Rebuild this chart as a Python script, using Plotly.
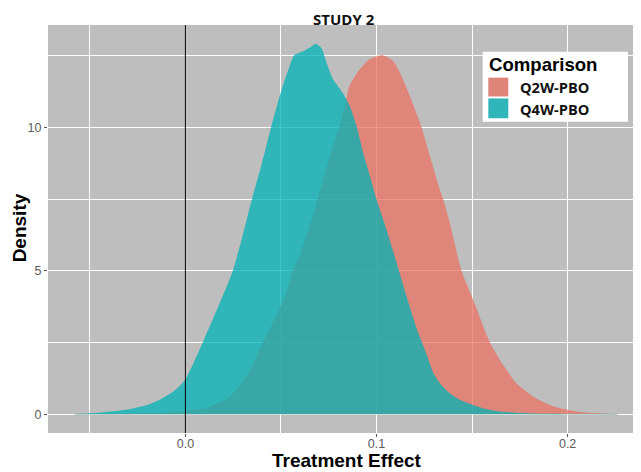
import plotly.graph_objects as go

# ---- data ----
q4w_x = [-0.058, -0.045, -0.031, -0.020, -0.0134, -0.006, 0.0, 0.0092, 0.017, 0.025,
         0.030, 0.035, 0.040, 0.045, 0.050, 0.054, 0.057, 0.062, 0.066, 0.0681,
         0.0711, 0.0737, 0.0772, 0.0816, 0.0859, 0.0894, 0.0929, 0.0964, 0.0999, 0.1051,
         0.1104, 0.1156, 0.1208, 0.126, 0.1295, 0.134, 0.1382, 0.144, 0.1504, 0.157,
         0.1644, 0.182, 0.200, 0.226]
q4w_y = [0.0, 0.05, 0.15, 0.32, 0.5, 0.8, 1.2, 2.5, 3.7, 5.0,
         6.2, 7.5, 8.7, 10.0, 11.2, 12.0, 12.5, 12.65, 12.8, 12.9,
         12.75, 12.24, 11.66, 11.25, 10.73, 10.03, 9.1, 8.29, 7.47, 6.43,
         5.27, 4.1, 3.0, 2.1, 1.45, 1.0, 0.73, 0.48, 0.32, 0.18,
         0.09, 0.02, 0.005, 0.0]

q2w_x = [-0.058, -0.04, -0.02, -0.005, 0.005, 0.0127, 0.0232, 0.0336, 0.0406, 0.0441,
         0.0528, 0.0563, 0.0598, 0.0667, 0.0694, 0.0737, 0.079, 0.0808, 0.0842, 0.0859,
         0.0912, 0.0964, 0.103, 0.1086, 0.1121, 0.1173, 0.1234, 0.1278, 0.133, 0.1347,
         0.1382, 0.1443, 0.1504, 0.1592, 0.1644, 0.1731, 0.1818, 0.1923, 0.2045, 0.215,
         0.226]
q2w_y = [0.0, 0.01, 0.03, 0.08, 0.15, 0.25, 0.6, 1.5, 2.5, 2.94,
         4.22, 5.0, 5.5, 6.89, 7.5, 8.52, 9.68, 10.0, 10.96, 11.43,
         12.0, 12.36, 12.5, 12.3, 11.9, 11.08, 10.0, 8.99, 7.82, 7.5,
         6.66, 5.0, 3.99, 2.5, 1.89, 1.08, 0.61, 0.27, 0.09, 0.03,
         0.0]

series_names = ["Q2W-PBO", "Q4W-PBO"]
x_ticks = [0.0, 0.1, 0.2]
x_tick_labels = ["0.0", "0.1", "0.2"]
y_ticks = [0, 5, 10]
y_tick_labels = ["0", "5", "10"]

# ---- styling ----
# the page body has an 8px default margin, so the figure is sized/shifted to fill the window
OFF = 8
WIN_W, WIN_H = 641, 472
W, H = WIN_W - OFF, WIN_H - OFF
PLOT_L, PLOT_T, PLOT_B = 48, 25, 433.3      # window pixels
ML, MR, MT, MB = PLOT_L - OFF, 0, PLOT_T - OFF, WIN_H - PLOT_B
RED_FILL = "rgba(233,113,99,0.75)"
TEAL_FILL = "rgba(0,179,182,0.75)"
RED_KEY = "#DE8479"
TEAL_KEY = "#30B6B8"
PANEL = "#BEBEBE"

def px_to_paper_x(px):
    return (px - OFF - ML) / (W - ML - MR)

def px_to_paper_y(py):
    return (H - MB - (py - OFF)) / (H - MT - MB)

fig = go.Figure()
fig.add_trace(go.Scatter(x=q2w_x, y=q2w_y, mode="lines", fill="tozeroy",
                         fillcolor=RED_FILL,
                         line=dict(color=RED_FILL, width=0.5, shape="spline", smoothing=0.6),
                         name=series_names[0], showlegend=False, hoverinfo="skip"))
fig.add_trace(go.Scatter(x=q4w_x, y=q4w_y, mode="lines", fill="tozeroy",
                         fillcolor=TEAL_FILL,
                         line=dict(color=TEAL_FILL, width=0.5, shape="spline", smoothing=0.6),
                         name=series_names[1], showlegend=False, hoverinfo="skip"))

shapes = [
    dict(type="line", xref="x", yref="paper", x0=0, x1=0, y0=0, y1=1,
         line=dict(color="black", width=1), layer="above"),
    # manual legend box
    dict(type="rect", xref="paper", yref="paper",
         x0=px_to_paper_x(482.7), x1=px_to_paper_x(628),
         y0=px_to_paper_y(121.7), y1=px_to_paper_y(51.7),
         fillcolor="white", line=dict(width=0), layer="above"),
    dict(type="rect", xref="paper", yref="paper",
         x0=px_to_paper_x(488.3), x1=px_to_paper_x(508.3),
         y0=px_to_paper_y(96.5), y1=px_to_paper_y(77.7),
         fillcolor=RED_KEY, line=dict(width=0), layer="above"),
    dict(type="rect", xref="paper", yref="paper",
         x0=px_to_paper_x(488.3), x1=px_to_paper_x(508.3),
         y0=px_to_paper_y(118.3), y1=px_to_paper_y(98.5),
         fillcolor=TEAL_KEY, line=dict(width=0), layer="above"),
]

annotations = [
    dict(text="<b>Comparison</b>", xref="paper", yref="paper",
         x=px_to_paper_x(486.5), y=px_to_paper_y(65), xanchor="left", yanchor="middle",
         showarrow=False, font=dict(family="Liberation Sans, Arial", size=18.6, color="black")),
    dict(text="<b>" + series_names[0] + "</b>", xref="paper", yref="paper",
         x=px_to_paper_x(518), y=px_to_paper_y(87), xanchor="left", yanchor="middle",
         showarrow=False, font=dict(family="Open Sans, Liberation Sans", size=14.6, color="#111")),
    dict(text="<b>" + series_names[1] + "</b>", xref="paper", yref="paper",
         x=px_to_paper_x(518), y=px_to_paper_y(109), xanchor="left", yanchor="middle",
         showarrow=False, font=dict(family="Open Sans, Liberation Sans", size=14.6, color="#111")),
    dict(text="<b>STUDY 2</b>", xref="paper", yref="paper",
         x=px_to_paper_x(343.5), y=px_to_paper_y(18.5), xanchor="center", yanchor="middle",
         showarrow=False, font=dict(family="Open Sans, Liberation Sans", size=15, color="#111")),
    dict(text="<b>Treatment Effect</b>", xref="paper", yref="paper",
         x=px_to_paper_x(346.5), y=px_to_paper_y(461), xanchor="center", yanchor="middle",
         borderpad=0,
         showarrow=False, font=dict(family="Liberation Sans, Arial", size=19, color="black")),
    dict(text="<b>Density</b>", xref="paper", yref="paper", textangle=-90,
         x=px_to_paper_x(19.5), y=px_to_paper_y(228), xanchor="center", yanchor="middle",
         showarrow=False, font=dict(family="Liberation Sans, Arial", size=19, color="black")),
]

fig.update_layout(
    width=W, height=H,
    margin=dict(l=ML, r=MR, t=MT, b=MB, pad=0, autoexpand=False),
    paper_bgcolor="white",
    plot_bgcolor=PANEL,
    shapes=shapes,
    annotations=annotations,
    showlegend=False,
    xaxis=dict(
        range=[-0.0719, 0.2384], automargin=False,
        tickvals=x_ticks, ticktext=x_tick_labels,
        showgrid=True, gridcolor="white", gridwidth=1.2,
        zeroline=False, showline=False,
        ticks="outside", ticklen=3, tickcolor="#555", tickwidth=1,
        ticklabelstandoff=-4,
        tickfont=dict(family="Liberation Sans, Arial", size=12.5, color="#5a5a5a"),
        minor=dict(dtick=0.05, tick0=0, showgrid=True, gridcolor="white", gridwidth=0.8),
    ),
    yaxis=dict(
        range=[-0.65, 13.56], automargin=False,
        tickvals=y_ticks, ticktext=y_tick_labels,
        showgrid=True, gridcolor="white", gridwidth=1.2,
        zeroline=False, showline=False,
        ticks="outside", ticklen=3, tickcolor="#555", tickwidth=1,
        tickfont=dict(family="Liberation Sans, Arial", size=12.5, color="#5a5a5a"),
        minor=dict(dtick=2.5, tick0=0, showgrid=True, gridcolor="white", gridwidth=0.8),
    ),
)

fig.write_html("out.html")
